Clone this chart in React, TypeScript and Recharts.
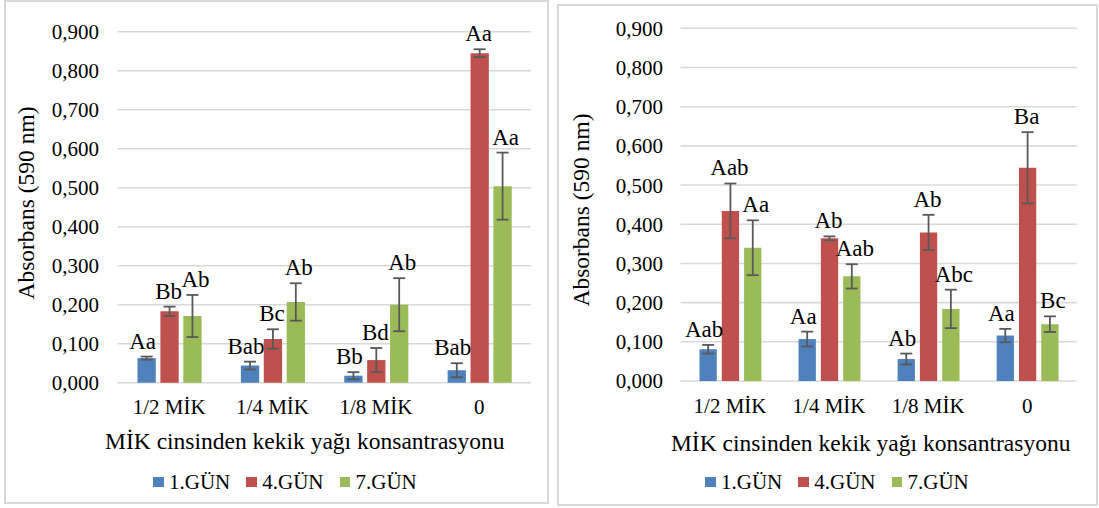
import React from 'react';
import { BarChart, Bar, XAxis, YAxis, CartesianGrid, ErrorBar, LabelList } from 'recharts';

const FONT = '"Liberation Serif", "Times New Roman", serif';

const categories = ['1/2 MİK', '1/4 MİK', '1/8 MİK', '0'];
const yTicks = [0, 0.1, 0.2, 0.3, 0.4, 0.5, 0.6, 0.7, 0.8, 0.9];
const seriesNames = ['1.GÜN', '4.GÜN', '7.GÜN'];
const seriesColors = ['#4F81BD', '#C0504D', '#9BBB59'];
const yTitle = 'Absorbans (590 nm)';
const xTitle = 'MİK cinsinden kekik yağı konsantrasyonu';

// Left chart
const leftDay1 = [0.063, 0.044, 0.018, 0.032];
const leftDay1Err = [0.004, 0.01, 0.009, 0.018];
const leftDay1Lbl = ['Aa', 'Bab', 'Bb', 'Bab'];
const leftDay4 = [0.183, 0.112, 0.058, 0.845];
const leftDay4Err = [0.012, 0.025, 0.031, 0.01];
const leftDay4Lbl = ['Bb', 'Bc', 'Bd', 'Aa'];
const leftDay7 = [0.171, 0.207, 0.2, 0.504];
const leftDay7Err = [0.054, 0.048, 0.068, 0.086];
const leftDay7Lbl = ['Ab', 'Ab', 'Ab', 'Aa'];

// Right chart
const rightDay1 = [0.081, 0.107, 0.056, 0.116];
const rightDay1Err = [0.011, 0.019, 0.014, 0.017];
const rightDay1Lbl = ['Aab', 'Aa', 'Ab', 'Aa'];
const rightDay4 = [0.434, 0.364, 0.379, 0.544];
const rightDay4Err = [0.07, 0.005, 0.045, 0.091];
const rightDay4Lbl = ['Aab', 'Ab', 'Ab', 'Ba'];
const rightDay7 = [0.34, 0.267, 0.184, 0.145];
const rightDay7Err = [0.07, 0.031, 0.049, 0.02];
const rightDay7Lbl = ['Aa', 'Aab', 'Abc', 'Bc'];

// label horizontal nudge per series (style)
const labelDx = [-4, -1, 3];

type Row = { [k: string]: any };

function buildRows(vals: number[][], errs: number[][], lbls: string[][]): Row[] {
  return categories.map((cat, i) => {
    const r: Row = { cat };
    vals.forEach((v, k) => {
      r[`v${k}`] = v[i];
      r[`e${k}`] = errs[k][i];
      r[`l${k}`] = lbls[k][i];
    });
    return r;
  });
}

const leftRows = buildRows(
  [leftDay1, leftDay4, leftDay7],
  [leftDay1Err, leftDay4Err, leftDay7Err],
  [leftDay1Lbl, leftDay4Lbl, leftDay7Lbl]
);
const rightRows = buildRows(
  [rightDay1, rightDay4, rightDay7],
  [rightDay1Err, rightDay4Err, rightDay7Err],
  [rightDay1Lbl, rightDay4Lbl, rightDay7Lbl]
);

const fmt = (v: number) => v.toFixed(3).replace('.', ',');

const makeLabel = (rows: Row[], k: number) => (props: any) => {
  const vb = props.viewBox ?? props;
  const idx = props.index;
  const row = rows[idx];
  if (!row || !vb) return null;
  const v = row[`v${k}`];
  const e = row[`e${k}`];
  const ppu = v ? vb.height / v : 0;
  const top = vb.y - e * ppu;
  return (
    <text
      x={vb.x + vb.width / 2 + labelDx[k]}
      y={top - 8}
      textAnchor="middle"
      fontSize={23}
      fontFamily={FONT}
      fill="#000"
    >
      {row[`l${k}`]}
    </text>
  );
};

type PanelProps = {
  rows: Row[];
  left: number;
  width: number;
  margin: { top: number; right: number; bottom: number; left: number };
  yTickMargin: number;
  xTickMargin: number;
  barSize: number;
  barGap: number;
};

function Panel({ rows, left, width, margin, yTickMargin, xTickMargin, barSize, barGap }: PanelProps) {
  return (
    <div style={{ position: 'absolute', left, top: 0 }}>
      <BarChart width={width} height={508} data={rows} margin={margin} barSize={barSize} barGap={barGap}>
        <CartesianGrid vertical={false} stroke="#d9d9d9" strokeWidth={1.6} />
        <XAxis
          dataKey="cat"
          height={30}
          axisLine={false}
          tickLine={false}
          tickSize={0}
          tickMargin={xTickMargin}
          interval={0}
          tick={{ fontSize: 21, fill: '#000', fontFamily: FONT }}
        />
        <YAxis
          width={60}
          domain={[0, 0.9]}
          ticks={yTicks}
          axisLine={false}
          tickLine={false}
          tickSize={0}
          tickMargin={yTickMargin}
          tickFormatter={fmt}
          tick={{ fontSize: 21, fill: '#000', fontFamily: FONT }}
        />
        {seriesNames.map((name, k) => (
          <Bar key={name} dataKey={`v${k}`} name={name} fill={seriesColors[k]} isAnimationActive={false}>
            <ErrorBar dataKey={`e${k}`} width={6} stroke="#595959" strokeWidth={1.8} direction="y" />
            <LabelList dataKey={`l${k}`} content={makeLabel(rows, k)} />
          </Bar>
        ))}
      </BarChart>
    </div>
  );
}

function LegendBox({ left }: { left: number }) {
  return (
    <div
      style={{
        position: 'absolute',
        left,
        top: 470,
        height: 24,
        display: 'flex',
        alignItems: 'center',
        fontFamily: FONT,
        fontSize: 21,
        color: '#000',
        lineHeight: '24px',
        whiteSpace: 'nowrap',
      }}
    >
      {seriesNames.map((n, k) => (
        <div key={n} style={{ display: 'flex', alignItems: 'center', marginRight: 16 }}>
          <div style={{ width: 10.5, height: 10.5, background: seriesColors[k], marginRight: 5.5 }} />
          <span>{n}</span>
        </div>
      ))}
    </div>
  );
}

export default function App() {
  return (
    <div
      style={{
        position: 'absolute',
        left: 0,
        top: 0,
        width: 1099,
        height: 508,
        background: '#fff',
        overflow: 'hidden',
      }}
    >
      <div
        style={{
          position: 'absolute',
          left: 4,
          top: 0,
          width: 545,
          height: 504,
          border: '2px solid #d9d9d9',
          boxSizing: 'border-box',
        }}
      />
      <div
        style={{
          position: 'absolute',
          left: 557,
          top: 4,
          width: 541,
          height: 502,
          border: '2px solid #d9d9d9',
          boxSizing: 'border-box',
        }}
      />
      <Panel
        rows={leftRows}
        left={0}
        width={560}
        margin={{ top: 31.7, right: 29, bottom: 508 - 382.7 - 30, left: 117.5 - 60 }}
        yTickMargin={18.6}
        xTickMargin={16.8}
        barSize={18.3}
        barGap={4.6}
      />
      <Panel
        rows={rightRows}
        left={550}
        width={549}
        margin={{ top: 28.3, right: 549 - 526.7, bottom: 508 - 381 - 30, left: 130.5 - 60 }}
        yTickMargin={17.5}
        xTickMargin={17.5}
        barSize={17.3}
        barGap={5}
      />
      <svg
        width={1099}
        height={508}
        style={{ position: 'absolute', left: 0, top: 0, pointerEvents: 'none' }}
      >
        <text
          transform="translate(26.3,203) rotate(-90)"
          textAnchor="middle"
          dominantBaseline="central"
          fontSize={23.5}
          fontFamily={FONT}
          fill="#000"
        >
          {yTitle}
        </text>
        <text
          transform="translate(580.8,210) rotate(-90)"
          textAnchor="middle"
          dominantBaseline="central"
          fontSize={23.5}
          fontFamily={FONT}
          fill="#000"
        >
          {yTitle}
        </text>
        <text x={304.8} y={440.7} textAnchor="middle" dominantBaseline="central" fontSize={23.5} fontFamily={FONT} fill="#000">
          {xTitle}
        </text>
        <text x={870.7} y={443.3} textAnchor="middle" dominantBaseline="central" fontSize={23.5} fontFamily={FONT} fill="#000">
          {xTitle}
        </text>
      </svg>
      <LegendBox left={153} />
      <LegendBox left={705} />
    </div>
  );
}
